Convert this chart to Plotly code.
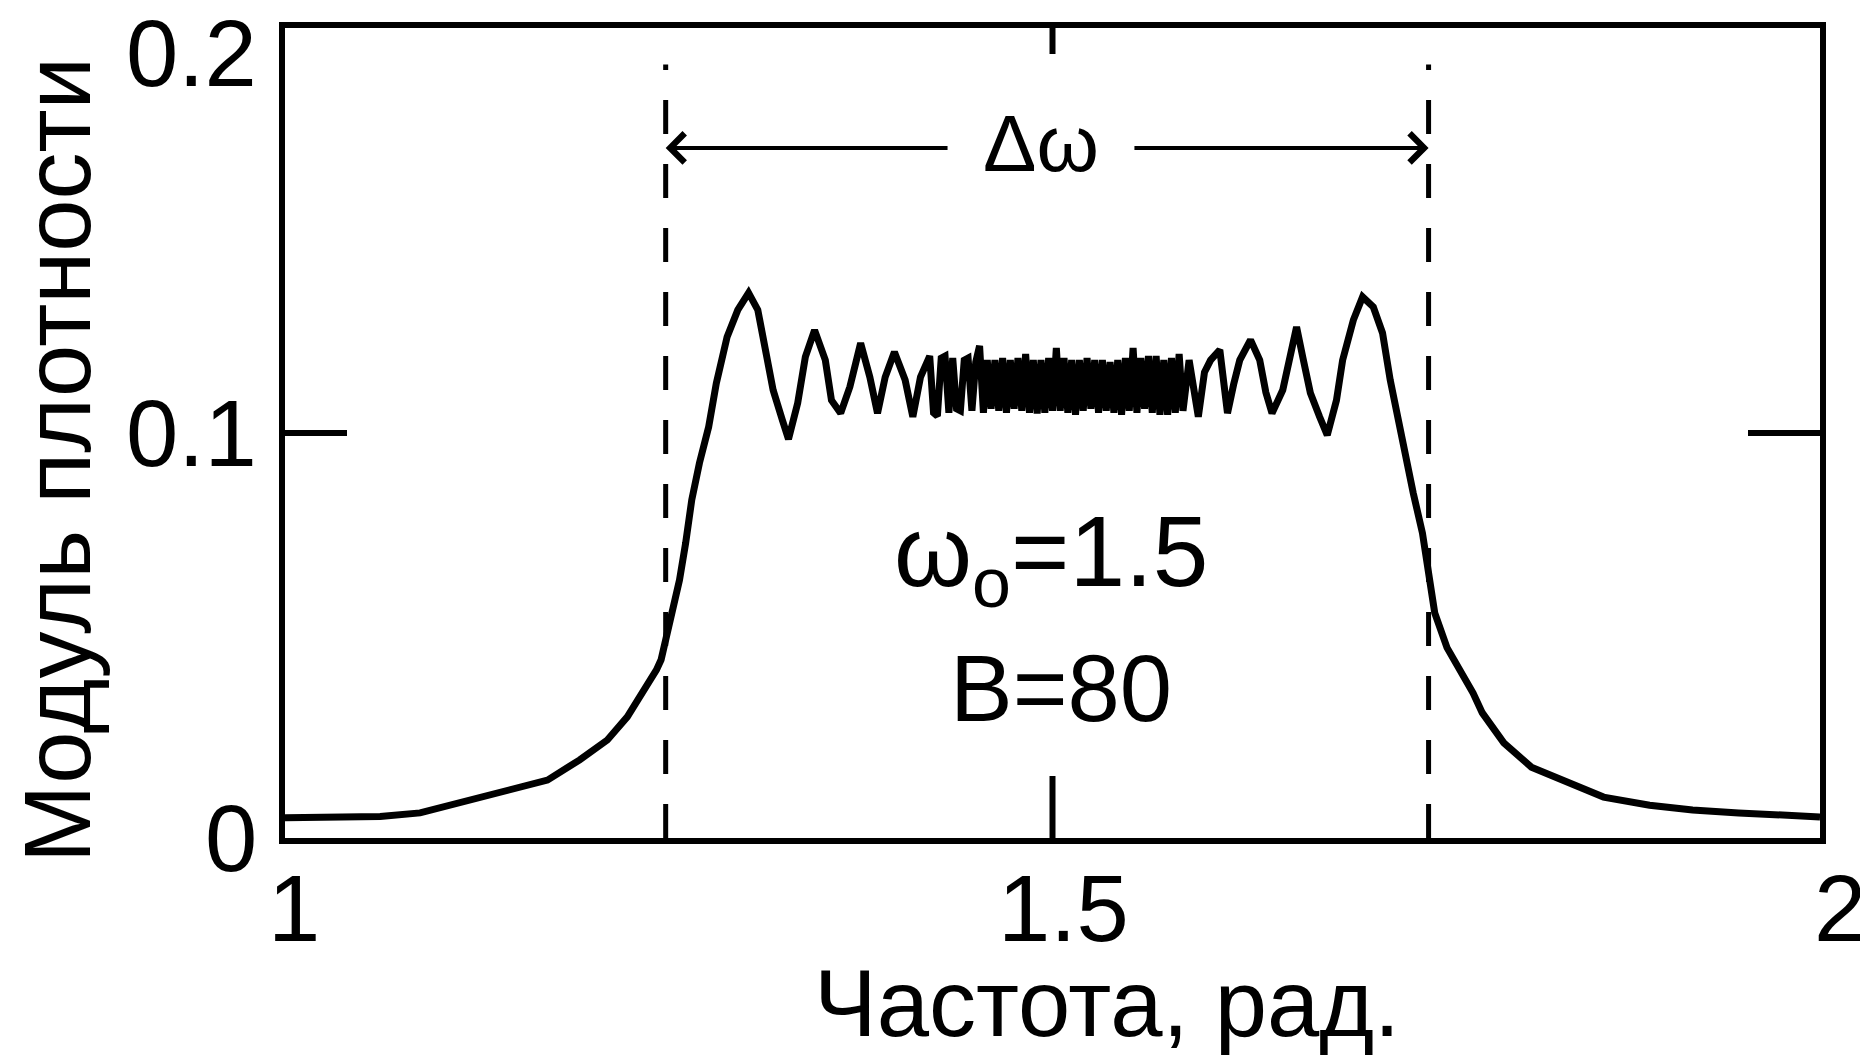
import plotly.graph_objects as go

# ---- data ----
freq = [1.000, 1.030, 1.062, 1.088, 1.114, 1.148, 1.171, 1.192, 1.210, 1.223,
        1.233, 1.242, 1.245, 1.252, 1.257, 1.261, 1.265, 1.270, 1.276, 1.281,
        1.288, 1.295, 1.302, 1.308, 1.313, 1.318, 1.324, 1.328, 1.334, 1.339,
        1.345, 1.352, 1.356, 1.362, 1.368, 1.375, 1.381, 1.386, 1.391, 1.397,
        1.404, 1.409, 1.414,
        1.4200, 1.4225, 1.4250, 1.4275, 1.4300, 1.4325, 1.4350, 1.4375, 1.4400, 1.4425,
        1.4450, 1.4475, 1.4500, 1.4525, 1.4550, 1.4575, 1.4600, 1.4625, 1.4650, 1.4675,
        1.4700, 1.4725, 1.4750, 1.4775, 1.4800, 1.4825, 1.4850, 1.4875, 1.4900, 1.4925,
        1.4950, 1.4975, 1.5000, 1.5025, 1.5050, 1.5075, 1.5100, 1.5125, 1.5150, 1.5175,
        1.5200, 1.5225, 1.5250, 1.5275, 1.5300, 1.5325, 1.5350, 1.5375, 1.5400, 1.5425,
        1.5450, 1.5475, 1.5500, 1.5525, 1.5550, 1.5575, 1.5600, 1.5625, 1.5650, 1.5675,
        1.5700, 1.5725, 1.5750, 1.5775, 1.5800, 1.5825, 1.5850,
        1.589, 1.595, 1.599, 1.603, 1.609, 1.614, 1.618, 1.622,
        1.629, 1.635, 1.639, 1.643, 1.650, 1.655, 1.659, 1.663, 1.668, 1.674,
        1.679, 1.685, 1.689, 1.696, 1.702, 1.709, 1.715, 1.720, 1.725, 1.730,
        1.735, 1.741, 1.746, 1.749, 1.757, 1.766, 1.774, 1.780, 1.794, 1.812,
        1.836, 1.859, 1.889, 1.917, 1.947, 1.975, 2.000]
density = [0.0050, 0.0051, 0.0053, 0.0062, 0.0086, 0.0119, 0.0143, 0.0193, 0.0242, 0.0299,
           0.0358, 0.0415, 0.0440, 0.0556, 0.0637, 0.0728, 0.0835, 0.0926, 0.1015, 0.1123,
           0.1237, 0.1304, 0.1346, 0.1304, 0.1212, 0.1106, 0.1032, 0.0985, 0.1074, 0.1188,
           0.1254, 0.1180, 0.1081, 0.1049, 0.1114, 0.1222, 0.1138, 0.1049, 0.1138, 0.1200,
           0.1131, 0.1040, 0.1138,
           0.1190, 0.1050, 0.1042, 0.1185, 0.1190, 0.1050, 0.1185, 0.1060, 0.1055, 0.1180,
           0.1185, 0.1055, 0.1175, 0.1215, 0.1050, 0.1180, 0.1060, 0.1180, 0.1055, 0.1185,
           0.1050, 0.1180, 0.1060, 0.1185, 0.1055, 0.1195, 0.1050, 0.1180, 0.1048, 0.1180,
           0.1050, 0.1185, 0.1055, 0.1210, 0.1055, 0.1185, 0.1050, 0.1180, 0.1045, 0.1180,
           0.1055, 0.1185, 0.1060, 0.1180, 0.1050, 0.1180, 0.1055, 0.1175, 0.1050, 0.1180,
           0.1045, 0.1185, 0.1055, 0.1210, 0.1050, 0.1185, 0.1060, 0.1190, 0.1050, 0.1190,
           0.1045, 0.1180, 0.1045, 0.1185, 0.1050, 0.1195, 0.1055,
           0.1180, 0.1040, 0.1150, 0.1180, 0.1205, 0.1049, 0.1120, 0.1180,
           0.1230, 0.1180, 0.1100, 0.1049, 0.1106, 0.1198, 0.1262, 0.1188, 0.1099, 0.1040,
           0.0995, 0.1081, 0.1180, 0.1279, 0.1336, 0.1311, 0.1247, 0.1131, 0.1032, 0.0933,
           0.0852, 0.0753, 0.0644, 0.0556, 0.0470, 0.0410, 0.0358, 0.0309, 0.0235, 0.0175,
           0.0136, 0.0101, 0.0081, 0.0069, 0.0062, 0.0057, 0.0052]

band_edges = [1.248, 1.745]          # dashed lines (Δω limits)
arrow_y = 0.1704
x_tickvals = [1, 1.5, 2]
x_ticktext = ["1", "1.5", "2"]
y_tickvals = [0, 0.1, 0.2]
y_ticktext = ["0", "0.1", "0.2"]

FONT = "Liberation Sans, Arial, sans-serif"
FS = 94

fig = go.Figure()
fig.add_trace(go.Scatter(x=freq, y=density, mode="lines",
                         line=dict(color="black", width=7), hoverinfo="skip"))

shapes = []
for xe in band_edges:
    shapes.append(dict(type="line", xref="x", yref="y", x0=xe, x1=xe, y0=0, y1=0.191,
                       line=dict(color="black", width=5, dash="34px,30px")))
# inner ticks
shapes += [
    dict(type="line", xref="paper", yref="y", x0=0, x1=62 / 1535, y0=0.1, y1=0.1,
         line=dict(color="black", width=6)),
    dict(type="line", xref="paper", yref="y", x0=1 - 72 / 1535, x1=1, y0=0.1, y1=0.1,
         line=dict(color="black", width=6)),
    dict(type="line", xref="x", yref="paper", x0=1.5, x1=1.5, y0=0, y1=62 / 810,
         line=dict(color="black", width=6)),
    dict(type="line", xref="x", yref="paper", x0=1.5, x1=1.5, y0=1, y1=1 - 26 / 810,
         line=dict(color="black", width=6)),
]

ann = []
# x tick labels
x_shift = [9, 11, 20]
for v, t, s in zip(x_tickvals, x_ticktext, x_shift):
    ann.append(dict(x=v, y=0, xref="x", yref="paper", text=t, showarrow=False,
                    xanchor="center", yanchor="middle", xshift=s, yshift=-70,
                    font=dict(family=FONT, size=FS, color="black")))
# y tick labels
y_shift = [0, 0, -25]
for v, t, s in zip(y_tickvals, y_ticktext, y_shift):
    ann.append(dict(x=0, y=v, xref="paper", yref="y", text=t, showarrow=False,
                    xanchor="right", yanchor="middle", xshift=-26, yshift=s,
                    font=dict(family=FONT, size=FS, color="black")))
# axis titles
ann.append(dict(x=0, y=0.5, xref="paper", yref="paper", text="Модуль плотности",
                showarrow=False, textangle=-90, xanchor="center", yanchor="middle",
                xshift=-228, yshift=-27, font=dict(family=FONT, size=FS, color="black")))
ann.append(dict(x=0.5, y=0, xref="paper", yref="paper", text="Частота, рад.",
                showarrow=False, xanchor="center", yanchor="middle",
                xshift=54, yshift=-165, font=dict(family=FONT, size=FS, color="black")))
# annotations inside plot
ann.append(dict(x=1.5, y=(838 - 558) / 810 * 0.2, xref="x", yref="y",
                text="ω<sub>o</sub>=1.5", showarrow=False, xanchor="center",
                yanchor="middle", xshift=-2, font=dict(family=FONT, size=100, color="black")))
ann.append(dict(x=1.5, y=(838 - 688) / 810 * 0.2, xref="x", yref="y",
                text="B=80", showarrow=False, xanchor="center", yanchor="middle",
                xshift=8, font=dict(family=FONT, size=FS, color="black")))
ann.append(dict(x=1.4925, y=arrow_y, xref="x", yref="y", text="Δω", showarrow=False,
                xanchor="center", yanchor="middle", yshift=4,
                font=dict(family=FONT, size=80, color="black")))
# arrows
ann.append(dict(x=band_edges[0], y=arrow_y, ax=1.4326, ay=arrow_y, xref="x", yref="y",
                axref="x", ayref="y", text="", showarrow=True, arrowhead=4,
                arrowsize=1.4, arrowwidth=4, arrowcolor="black"))
ann.append(dict(x=band_edges[1], y=arrow_y, ax=1.5524, ay=arrow_y, xref="x", yref="y",
                axref="x", ayref="y", text="", showarrow=True, arrowhead=4,
                arrowsize=1.4, arrowwidth=4, arrowcolor="black"))

fig.update_layout(
    width=1860, height=1055,
    margin=dict(l=285, r=40, t=28, b=217),
    plot_bgcolor="white", paper_bgcolor="white",
    showlegend=False,
    shapes=shapes, annotations=ann,
    xaxis=dict(range=[1, 2], showgrid=False, zeroline=False, showline=True,
               mirror=True, linecolor="black", linewidth=6, ticks="",
               showticklabels=False, fixedrange=True),
    yaxis=dict(range=[0, 0.2], showgrid=False, zeroline=False, showline=True,
               mirror=True, linecolor="black", linewidth=6, ticks="",
               showticklabels=False, fixedrange=True),
)

fig.write_html("out.html")
